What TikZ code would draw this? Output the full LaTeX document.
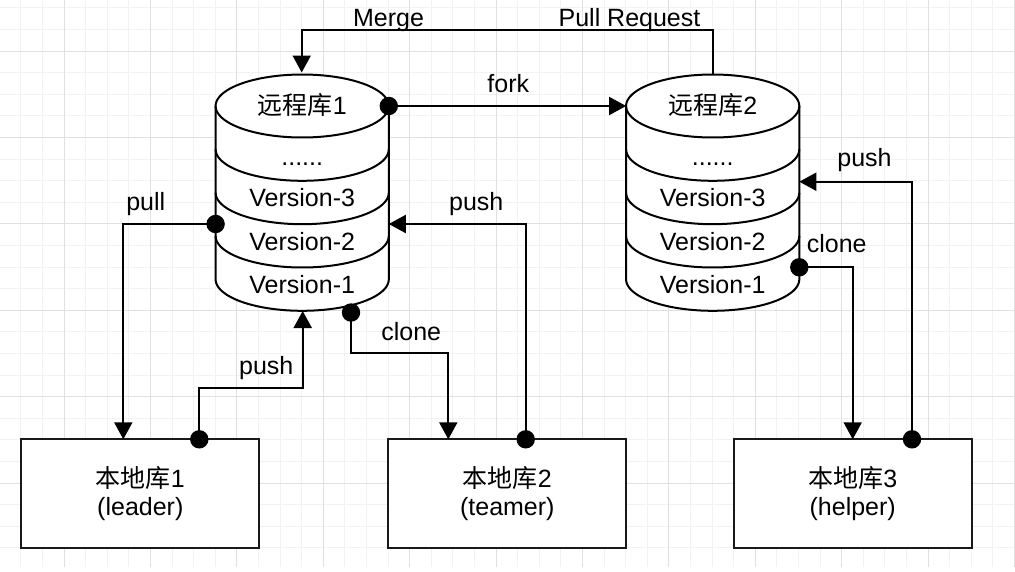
\documentclass[tikz,border=0pt]{standalone}
\usepackage{fontspec}
\setmainfont{Liberation Sans}
\newfontfamily\cjk{Noto Sans CJK SC}
\usetikzlibrary{arrows.meta}
\begin{document}
\begin{tikzpicture}[x=1pt,y=-1pt,
  gridminor/.style={draw=black!5, line width=1pt},
  gridmajor/.style={draw=black!12, line width=1pt},
  edge/.style={line width=2pt, draw=black, line join=round},
  conn/.style={line width=2pt, draw=black, -{Triangle[length=17pt,width=18pt]}},
  lbl/.style={font=\fontsize{25}{30}\selectfont, anchor=base, inner sep=0pt},
  localbox/.style={draw=black!90, line width=2pt, fill=white, minimum width=238pt,
    minimum height=108.3pt, inner sep=0pt, outer sep=0pt, align=center,
    font=\fontsize{25}{28.5}\selectfont}]
\useasboundingbox (0,0) rectangle (1015,571);
\fill[white] (0,0) rectangle (1015,571);
% grid
\foreach \k in {0,...,46} \draw[gridminor] ({20.8+21.6*\k},0) -- ({20.8+21.6*\k},567);
\foreach \k in {0,...,25} \draw[gridminor] (0,{7.8+21.6*\k}) -- (1015,{7.8+21.6*\k});
\foreach \k in {0,...,11} \draw[gridmajor] ({64+86.4*\k},0) -- ({64+86.4*\k},567);
\foreach \k in {0,...,5} \draw[gridmajor] (0,{51+86.4*\k}) -- (1015,{51+86.4*\k});

% remote repositories (cylinders)
\foreach \cx/\n in {302.2/1, 712.7/2} {
  \filldraw[edge, fill=white] (\cx-86.6,106) -- (\cx-86.6,279.3)
    -- plot[variable=\t, domain=180:360, samples=60] ({\cx+86.6*cos(\t)},{279.3-31.5*sin(\t)})
    -- (\cx+86.6,106)
    -- plot[variable=\t, domain=0:180, samples=60] ({\cx+86.6*cos(\t)},{106-31.5*sin(\t)})
    -- cycle;
  \foreach \yy in {106,149.3,192.7,236}
    \draw[edge] plot[variable=\t, domain=180:360, samples=60] ({\cx+86.6*cos(\t)},{\yy-31.5*sin(\t)});
  \node[lbl] (r\n-name) at (\cx,114.5) {{\cjk 远程库}\n};
  \node[lbl] (r\n-dots) at (\cx,165) {......};
  \node[lbl] (r\n-v3) at (\cx,206.7) {Version-3};
  \node[lbl] (r\n-v2) at (\cx,250) {Version-2};
  \node[lbl] (r\n-v1) at (\cx,293.3) {Version-1};
}

% local repositories
\node[localbox] (l1) at (140.3,493.5) {{\cjk 本地库}1\\(leader)};
\node[localbox] (l2) at (507.3,493.5) {{\cjk 本地库}2\\(teamer)};
\node[localbox] (l3) at (852.7,493.5) {{\cjk 本地库}3\\(helper)};

% ports
\coordinate (r1top) at (301.7,72.5);
\coordinate (r1right) at (388.8,106);
\coordinate (r1pull) at (215.6,224);
\coordinate (r1pushin) at (388.8,224);
\coordinate (r1bot) at (302.7,311);
\coordinate (r1clone) at (351,312.5);
\coordinate (r2top) at (712.7,74.5);
\coordinate (r2left) at (626.1,106);
\coordinate (r2pushin) at (799.3,181.7);
\coordinate (r2clone) at (799.3,267.3);
\coordinate (mergey) at (0,30);
\coordinate (l1in) at (123.3,439.3);
\coordinate (l1out) at (199.3,439.3);
\coordinate (l2in) at (448.3,439.3);
\coordinate (l2out) at (525.7,439.3);
\coordinate (l3in) at (852.7,439.3);
\coordinate (l3out) at (912,439.3);

% connectors
\draw[conn] (r2top) |- (mergey -| r1top) -- (r1top);
\draw[conn] (r1right) -- (r2left);
\draw[conn] (r1pull) -| (l1in);
\draw[conn] (l1out) -- ++(0,-51.6) -| (r1bot);
\draw[conn] (r1clone) -- ++(0,40.8) -| (l2in);
\draw[conn] (l2out) |- (r1pushin);
\draw[conn] (r2clone) -| (l3in);
\draw[conn] (l3out) |- (r2pushin);

% start dots
\foreach \p in {r1right, r1pull, l1out, r1clone, l2out, r2clone, l3out}
  \fill (\p) circle (9.2);

% labels
\node[lbl] (t-merge) at (388.5,26.7) {Merge};
\node[lbl] (t-pr) at (629.5,26.7) {Pull Request};
\node[lbl] (t-fork) at (508.3,92.7) {fork};
\node[lbl] (t-pull) at (145.8,210.7) {pull};
\node[lbl] (t-push1) at (266.3,374) {push};
\node[lbl] (t-clone1) at (411.2,340) {clone};
\node[lbl] (t-push2) at (476.3,210.7) {push};
\node[lbl] (t-clone2) at (836.7,252.7) {clone};
\node[lbl] (t-push3) at (864.5,166) {push};
\end{tikzpicture}
\end{document}
